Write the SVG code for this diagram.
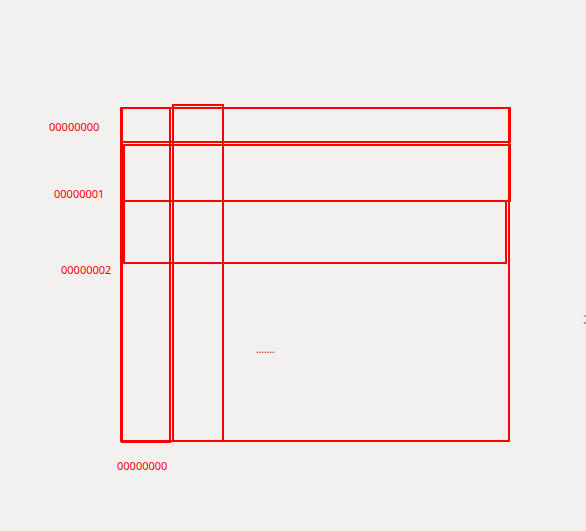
<svg xmlns="http://www.w3.org/2000/svg" width="586" height="531" viewBox="0 0 586 531">
<style>
.r{fill:none;stroke:#ff0000;stroke-width:2}
.t{font-family:"Noto Sans","Open Sans",sans-serif;font-size:11px;fill:#ff0000}
.d{font-family:"Noto Sans",sans-serif;font-size:10px;fill:#cc0000}
</style>
<rect width="586" height="531" fill="#f3f1ef"/>
<g id="frame"><rect class="r" x="121" y="108" width="388" height="333"/></g>
<g id="rows">
<g id="row0"><rect class="r" x="122" y="108" width="388" height="34"/></g>
<g id="row1"><rect class="r" x="124" y="145" width="386" height="56"/></g>
<g id="row2"><rect class="r" x="124" y="201" width="382" height="62"/></g>
</g>
<g id="cols">
<g id="col0"><rect class="r" x="122" y="108" width="48" height="334"/></g>
<g id="col1"><rect class="r" x="173" y="105" width="50" height="336"/></g>
</g>
<g id="labels">
<text class="t" x="49" y="131">00000000</text>
<text class="t" x="54" y="198">00000001</text>
<text class="t" x="61" y="274">00000002</text>
<text class="t" x="117" y="470">00000000</text>
<text class="d" x="256" y="353">.......</text>
<text x="582" y="325" style="font-family:'DejaVu Sans',sans-serif;font-size:18px;fill:#b09070">&gt;</text>
</g>
</svg>
